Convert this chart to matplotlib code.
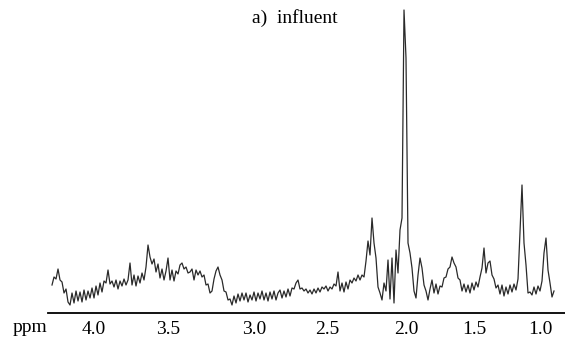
import numpy as np
import matplotlib
matplotlib.use('agg')
import matplotlib.pyplot as plt

# 1H NMR spectrum, influent sample (intensity in arbitrary units)
shift_first = 4.283
shift_last = 0.906
intensity = [
    28, 36, 34, 44, 33, 31, 20, 24, 11, 8,
    20, 10, 22, 12, 21, 11, 23, 13, 22, 15,
    25, 15, 27, 18, 30, 21, 32, 30, 43, 29,
    32, 26, 33, 24, 32, 27, 34, 28, 33, 50,
    28, 38, 27, 37, 30, 40, 33, 46, 68, 56,
    49, 54, 41, 49, 35, 44, 33, 42, 55, 33,
    43, 32, 42, 39, 48, 50, 44, 46, 40, 41,
    44, 33, 43, 38, 42, 36, 38, 28, 29, 20,
    22, 34, 42, 46, 38, 33, 22, 21, 13, 14,
    8, 17, 10, 19, 12, 20, 13, 20, 11, 18,
    13, 21, 12, 20, 14, 22, 13, 20, 12, 21,
    14, 22, 13, 20, 23, 15, 22, 16, 24, 17,
    25, 24, 30, 33, 24, 25, 22, 24, 20, 23,
    19, 24, 20, 25, 21, 26, 24, 27, 22, 26,
    24, 29, 27, 41, 22, 30, 21, 31, 24, 33,
    30, 35, 32, 38, 33, 38, 36, 52, 72, 58,
    95, 70, 55, 26, 20, 13, 30, 22, 53, 14,
    55, 10, 63, 40, 83, 95, 303, 255, 70, 60,
    45, 22, 15, 38, 55, 45, 28, 22, 13, 24,
    33, 20, 29, 19, 27, 26, 35, 36, 44, 46,
    56, 50, 46, 35, 33, 22, 29, 21, 28, 20,
    30, 23, 31, 26, 36, 45, 65, 40, 50, 52,
    38, 34, 25, 28, 19, 28, 17, 26, 19, 28,
    21, 29, 23, 34, 80, 128, 70, 48, 20, 21,
    18, 26, 19, 27, 22, 32, 60, 75, 43, 30,
    16, 22,
]
tick_pos = [4.0, 3.5, 2.92, 2.43, 1.9, 1.44, 1.0]
tick_labels = ["4.0", "3.5", "3.0", "2.5", "2.0", "1.5", "1.0"]

shift = np.linspace(shift_first, shift_last, len(intensity))

plt.rcParams['font.family'] = ['Liberation Serif', 'DejaVu Serif']

fig = plt.figure(figsize=(5.65, 3.4), dpi=100)
ax = fig.add_axes([48 / 565, 1 - 313 / 340, 1 - 48 / 565, 305 / 340])
ax.plot(shift, intensity, color='#2a2a2a', lw=0.9)
ax.set_xlim(4.31, 0.832)
ax.set_ylim(0, 305)
for s in ['top', 'left', 'right']:
    ax.spines[s].set_visible(False)
ax.spines['bottom'].set_linewidth(1.3)
ax.set_yticks([])
ax.set_xticks(tick_pos)
ax.set_xticklabels(tick_labels, fontsize=14)
ax.tick_params(axis='x', length=0, pad=6)

fig.text(30 / 565, 1 - 327 / 340, "ppm", fontsize=14, ha='center', va='center')
fig.text(295 / 565, 1 - 18 / 340, "a)  influent", fontsize=14, ha='center', va='center')

fig.savefig("out.png", dpi=100)
